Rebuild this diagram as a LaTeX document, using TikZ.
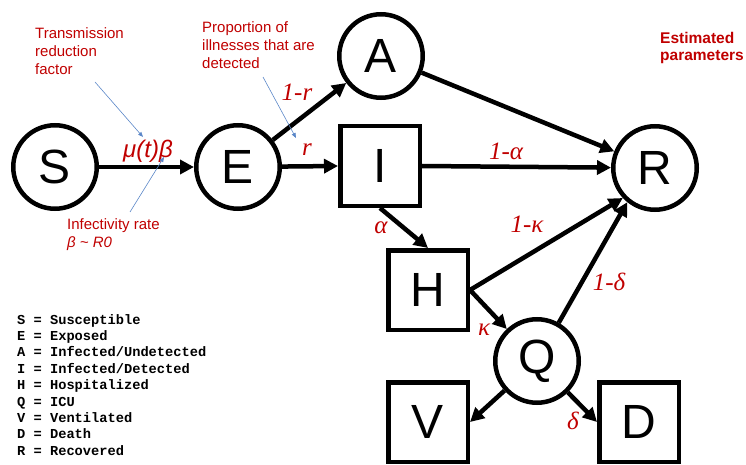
\documentclass[tikz,border=0pt]{standalone}
\usepackage{fontspec}
\setmainfont{Liberation Sans}
\setmonofont{Liberation Mono}
\newfontfamily\serifit{Liberation Serif}
\usetikzlibrary{arrows.meta}
\definecolor{parred}{HTML}{C00000}
\definecolor{noteblue}{RGB}{91,135,200}

\begin{document}
\begin{tikzpicture}[x=1pt,y=-1pt,
        compart/.style={circle,draw,line width=4.5pt,minimum size=83.5pt,inner sep=0pt,font=\fontsize{48}{48}\selectfont},
        boxcompart/.style={rectangle,draw,line width=4.5pt,minimum size=79.5pt,inner sep=0pt,font=\fontsize{48}{48}\selectfont},
        flow/.style={line width=4.5pt,-{Triangle[length=14pt,width=14pt]}},
        rate/.style={text=parred,font=\serifit\itshape\fontsize{25}{25}\selectfont,inner sep=0pt},
        note/.style={text=parred,font=\fontsize{15}{18}\selectfont,align=left,anchor=north west,inner sep=0pt},
        pointer/.style={noteblue,line width=0.6pt,-{Triangle[length=5pt,width=4pt]}},
        ]
        \useasboundingbox (0,0) rectangle (746,465);

        % compartments
        \node[compart](S) at (55,167){S};
        \node[compart](E) at (238,167){E};
        \node[compart](A) at (381,56){A};
        \node[boxcompart](I) at (380,166){I};
        \node[compart](R) at (655,168){R};
        \node[boxcompart](H) at (428,290){H};
        \node[compart](Q) at (537,361){Q};
        \node[boxcompart](V) at (428,422){V};
        \node[boxcompart](D) at (639,422){D};

        % flows
        \draw[flow] (S) -- (E);
        \draw[flow] (E) -- (A);
        \draw[flow] (E) -- (I.west);
        \draw[flow] (A) -- (R);
        \draw[flow] (I.east) -- (R);
        \draw[flow] (I.south) -- (H.north);
        \draw[flow] (H.east) -- (R.223);
        \draw[flow] (H.east) -- (Q);
        \draw[flow] (Q) -- (R.231);
        \draw[flow] (Q) -- (V.east);
        \draw[flow] (Q) -- (D.west);

        % rates
        \node[text=parred,font=\itshape\fontsize{24}{24}\selectfont,inner sep=0pt](mub) at (148,151){μ(t)β};
        \node[rate](lr1) at (297,92){1-r};
        \node[rate](lr) at (307,150){r};
        \node[rate](lal1) at (506,151){1-α};
        \node[rate](lal) at (381,228){α};
        \node[rate](lka1) at (527,224){1-κ};
        \node[rate](lde1) at (609,282){1-δ};
        \node[rate](lka) at (484,330){κ};
        \node[rate](lde) at (573,421){δ};

        % notes
        \node[note](trf) at (35,27){Transmission\\reduction\\factor};
        \node[note](prop) at (202,21){Proportion of\\illnesses that are\\detected};
        \node[note](infr) at (67,218){Infectivity rate\\{\itshape β \textasciitilde{} R0}};
        \node[note,font=\bfseries\fontsize{15.5}{17}\selectfont](est) at (660,32){Estimated\\parameters};

        \coordinate (trf_from) at (95,82);
        \coordinate (trf_to) at (143,137);
        \coordinate (infr_from) at (130,212);
        \coordinate (infr_to) at (164,157);
        \coordinate (prop_from) at (263,77);
        \coordinate (prop_to) at (296,138);
        \draw[pointer] (trf_from) -- (trf_to);
        \draw[pointer] (infr_from) -- (infr_to);
        \draw[pointer] (prop_from) -- (prop_to);

        % legend
        \node[font=\ttfamily\bfseries\fontsize{13.7}{16.4}\selectfont,align=left,anchor=north west,inner sep=0pt](legend) at (17,314){S = Susceptible\\E = Exposed\\A = Infected/Undetected\\I = Infected/Detected\\H = Hospitalized\\Q = ICU\\V = Ventilated\\D = Death\\R = Recovered};

\end{tikzpicture}
\end{document}
